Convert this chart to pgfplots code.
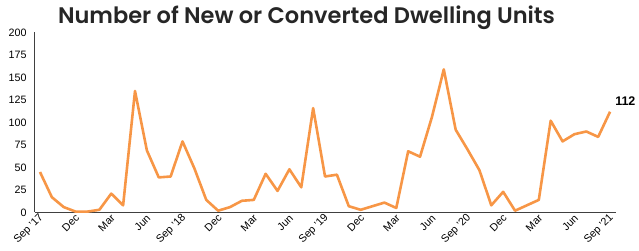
\documentclass[border=0pt]{standalone}
\usepackage{fontspec}
\setmainfont{Liberation Sans}
\newfontfamily\titlefont{Poppins}[BoldFont={* SemiBold}]
\usepackage{pgfplots}
\pgfplotsset{compat=1.18}
\definecolor{lineorange}{RGB}{247,150,70}
\definecolor{axgray}{RGB}{64,64,64}
\definecolor{titlegray}{RGB}{38,38,38}
\begin{document}
\begin{tikzpicture}
\useasboundingbox (0,0) rectangle (639pt,251pt);
\begin{axis}[
  at={(35pt,38.5pt)}, anchor=south west,
  scale only axis, width=581pt, height=180pt,
  xmin=-0.42, xmax=48.5, ymin=0, ymax=200,
  axis x line=bottom, axis y line=left,
  axis line style={axgray, line width=1pt, -},
  major tick length=0pt,
  ytick={0,25,...,200},
  xtick={0,3,...,48},
  xticklabels={Sep '17,Dec,Mar,Jun,Sep '18,Dec,Mar,Jun,Sep '19,Dec,Mar,Jun,Sep '20,Dec,Mar,Jun,Sep '21},
  tick label style={font=\fontsize{10.7}{12}\selectfont, text=black},
  yticklabel style={xshift=-5pt},
  xticklabel style={rotate=45, anchor=east, xshift=2pt, yshift=-4pt},
  /pgf/number format/assume math mode=true,
  title={Number of New or Converted Dwelling Units},
  title style={font=\titlefont\bfseries\fontsize{22.5}{26}\selectfont, anchor=base, at={(0.5,1)}, xshift=-19pt, yshift=3.2pt, text=titlegray},
  clip=false,
]
\addplot[lineorange, line width=2.6pt, line join=round] coordinates {
(0,45) (1,17) (2,6) (3,1) (4,1) (5,3) (6,21) (7,8) (8,135) (9,69) (10,39) (11,40)
(12,79) (13,49) (14,14) (15,2) (16,6) (17,13) (18,14) (19,43) (20,24) (21,48) (22,28) (23,116)
(24,40) (25,42) (26,7) (27,3) (28,7) (29,11) (30,5) (31,68) (32,62) (33,106) (34,159) (35,92)
(36,70) (37,47) (38,8) (39,23) (40,2) (41,8) (42,14) (43,102) (44,79) (45,87) (46,90) (47,84)
(48,112)
};
\node[anchor=base west, font=\bfseries\fontsize{12.5}{14}\selectfont, inner sep=0pt, xshift=5pt, yshift=5.7pt] at (axis cs:48,112) {112};
\end{axis}
\end{tikzpicture}
\end{document}
